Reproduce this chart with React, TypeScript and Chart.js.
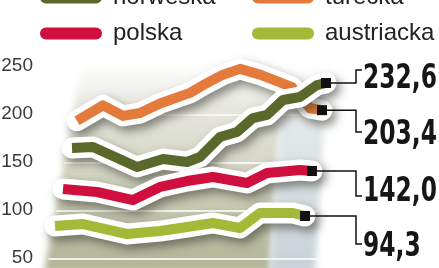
import { useEffect, useRef } from "react";
import { Chart, registerables } from "chart.js";

Chart.register(...registerables);

// ---- data ----
const seriesNames = ["norweska", "turecka", "polska", "austriacka"];
const seriesColors = ["#5a692b", "#e47a3b", "#cf0f3e", "#a6b837"];
const endValues = [232.6, 203.4, 142.0, 94.3];
const yTicks = [50, 100, 150, 200, 250];

const norweskaX = [8.5, 13.75, 19.25, 24.75, 31.25, 37.25, 40.5, 45.5, 49.75, 53.75, 57.25, 61.25, 65.5, 69.75, 72];
const norweskaY = [164.6, 165.6, 155.2, 144.8, 153.1, 150, 155.2, 176, 181.3, 195.8, 199, 214.6, 217.7, 230.2, 232.3];

const tureckaX = [9.75, 16.25, 21.25, 25.5, 30.5, 38, 41.25, 46.25, 50.5, 55.5, 60.5, 63.5, 68, 71];
const tureckaY = [193, 209, 198, 201, 211, 222, 230, 241, 247, 241, 233, 228, 206, 204];

const polskaX = [6.25, 14.75, 23.75, 30.5, 37.25, 43.75, 52.25, 57.25, 65.5, 68.5];
const polskaY = [121.9, 118.75, 110.4, 124, 130.2, 134.4, 128.1, 138.5, 141.7, 140.6];

const austriackaX = [4.25, 11.25, 22.25, 30.5, 37.25, 43.75, 50.5, 55.5, 63.75, 66.75];
const austriackaY = [83.3, 85.4, 75, 78.1, 82.3, 86.5, 81.25, 96.9, 96.9, 93.75];

const seriesX = [norweskaX, tureckaX, polskaX, austriackaX];
const seriesY = [norweskaY, tureckaY, polskaY, austriackaY];

// drawing order from back to front
const drawOrder = [1, 0, 2, 3];

// label layout (style)
const labelBaselines = [88, 144, 201, 256];
const connectorTargets = [70, 132, 196, 244];

function fmt(v: number) {
  return v.toFixed(1).replace(".", ",");
}

const decorPlugin = {
  id: "decor",
  beforeDatasetsDraw(chart: any) {
    const ctx = chart.ctx as CanvasRenderingContext2D;
    const ys = chart.scales.y;
    ctx.save();
    // main gray-olive panel
    const g = ctx.createLinearGradient(0, 62, 0, 268);
    g.addColorStop(0, "rgba(236,236,230,0)");
    g.addColorStop(0.2, "rgba(230,230,222,0.9)");
    g.addColorStop(0.55, "#d1d2bf");
    g.addColorStop(1, "#b3b598");
    ctx.filter = "blur(3px)";
    ctx.fillStyle = g;
    ctx.beginPath();
    ctx.moveTo(82, 62);
    ctx.lineTo(284, 62);
    ctx.lineTo(270, 272);
    ctx.lineTo(44, 272);
    ctx.closePath();
    ctx.fill();
    // bluish band
    const b = ctx.createLinearGradient(0, 62, 0, 268);
    b.addColorStop(0, "rgba(236,238,240,0)");
    b.addColorStop(0.3, "rgba(226,230,232,0.9)");
    b.addColorStop(1, "#c7d2d8");
    ctx.fillStyle = b;
    ctx.beginPath();
    ctx.moveTo(284, 62);
    ctx.lineTo(328, 62);
    ctx.lineTo(315, 272);
    ctx.lineTo(270, 272);
    ctx.closePath();
    ctx.fill();
    ctx.filter = "none";
    // light gridlines
    ctx.strokeStyle = "rgba(250,250,246,0.9)";
    ctx.lineWidth = 2;
    for (const t of yTicks.slice(0, 4)) {
      const py = ys.getPixelForValue(t) + 1;
      const lx = 47 + (268 - py) * 0.16;
      ctx.beginPath();
      ctx.moveTo(lx, py);
      ctx.lineTo(318, py);
      ctx.stroke();
    }
    // tick labels
    ctx.fillStyle = "#3a3a3a";
    ctx.font = '19px "Liberation Sans", sans-serif';
    ctx.textAlign = "right";
    ctx.textBaseline = "middle";
    for (const t of yTicks) {
      ctx.fillText(String(t), 33, ys.getPixelForValue(t));
    }
    ctx.restore();
  },
  beforeDatasetDraw(chart: any, args: any) {
    const ds = chart.data.datasets[args.index];
    if (ds._halo) {
      const ctx = chart.ctx;
      ctx.save();
      ctx.shadowColor = "rgba(50,50,40,0.55)";
      ctx.shadowBlur = 10;
      ctx.shadowOffsetX = 4;
      ctx.shadowOffsetY = 5;
    }
  },
  afterDatasetDraw(chart: any, args: any) {
    const ds = chart.data.datasets[args.index];
    if (ds._halo) chart.ctx.restore();
  },
  afterDatasetsDraw(chart: any) {
    const ctx = chart.ctx as CanvasRenderingContext2D;
    const xs = chart.scales.x;
    const ys = chart.scales.y;
    ctx.save();
    const labelFont = 'bold 34px "DejaVu Sans Condensed", "DejaVu Sans", sans-serif';
    ctx.font = labelFont;
    const squeeze = 74 / ctx.measureText("232,6").width;
    // markers, connectors, labels
    for (let i = 0; i < seriesNames.length; i++) {
      const xArr = seriesX[i];
      const yArr = seriesY[i];
      const px = xs.getPixelForValue(xArr[xArr.length - 1]);
      const py = ys.getPixelForValue(yArr[yArr.length - 1]);
      ctx.fillStyle = "#111";
      ctx.fillRect(px - 5, py - 5, 10, 10);
      ctx.strokeStyle = "#111";
      ctx.lineWidth = 1.5;
      ctx.beginPath();
      ctx.moveTo(px + 5, py);
      ctx.lineTo(356, py);
      ctx.lineTo(356, connectorTargets[i]);
      ctx.lineTo(362, connectorTargets[i]);
      ctx.stroke();
      ctx.save();
      ctx.fillStyle = "#161616";
      ctx.font = labelFont;
      ctx.textAlign = "left";
      ctx.textBaseline = "alphabetic";
      ctx.translate(363, labelBaselines[i]);
      ctx.scale(squeeze, 1);
      ctx.fillText(fmt(endValues[i]), 0, 0);
      ctx.restore();
    }
    // legend
    ctx.font = '24px "Liberation Sans", sans-serif';
    ctx.textAlign = "left";
    ctx.textBaseline = "alphabetic";
    for (let i = 0; i < seriesNames.length; i++) {
      const col = i % 2;
      const row = Math.floor(i / 2);
      const cy = -2.5 + row * 36;
      const x0 = col === 0 ? 40 : 252;
      ctx.fillStyle = seriesColors[i];
      ctx.beginPath();
      const w = 62;
      const h = 12;
      ctx.moveTo(x0 + h / 2, cy - h / 2);
      ctx.lineTo(x0 + w - h / 2, cy - h / 2);
      ctx.arc(x0 + w - h / 2, cy, h / 2, -Math.PI / 2, Math.PI / 2);
      ctx.lineTo(x0 + h / 2, cy + h / 2);
      ctx.arc(x0 + h / 2, cy, h / 2, Math.PI / 2, (3 * Math.PI) / 2);
      ctx.closePath();
      ctx.fill();
      ctx.fillStyle = "#222";
      ctx.fillText(seriesNames[i], x0 + 73, cy + 6.5);
    }
    ctx.restore();
  },
};

export default function App() {
  const ref = useRef<HTMLCanvasElement>(null);
  useEffect(() => {
    if (!ref.current) return;
    const datasets: any[] = [];
    // Chart.js draws dataset index 0 last (on top) -> push front-most first
    const front = [...drawOrder].reverse();
    for (const i of front) {
      const pts = seriesX[i].map((x, k) => ({ x, y: seriesY[i][k] }));
      datasets.push({
        label: seriesNames[i],
        data: pts,
        borderColor: seriesColors[i],
        borderWidth: 10,
        borderCapStyle: "butt",
        borderJoinStyle: "round",
        pointRadius: 0,
        tension: 0,
        clip: false,
      });
      datasets.push({
        label: seriesNames[i] + "-halo",
        _halo: true,
        data: pts,
        borderColor: "#ffffff",
        borderWidth: 21,
        borderCapStyle: "round",
        borderJoinStyle: "round",
        pointRadius: 0,
        tension: 0,
        clip: false,
      });
    }
    const chart = new Chart(ref.current, {
      type: "line",
      data: { datasets },
      options: {
        animation: false,
        responsive: false,
        devicePixelRatio: 1,
        layout: { autoPadding: false, padding: { top: 56.4, bottom: 0.4, left: 0, right: 1 } },
        plugins: { legend: { display: false }, tooltip: { enabled: false } },
        scales: {
          x: { type: "linear", min: 0, max: 100, display: false },
          y: {
            min: 40,
            max: 260,
            afterFit: (s: any) => {
              s.width = 38;
            },
            grid: { display: false, drawTicks: false },
            border: { display: false },
            ticks: { display: false },
          },
        },
      } as any,
      plugins: [decorPlugin],
    });
    return () => chart.destroy();
  }, []);
  return (
    <canvas
      ref={ref}
      width={439}
      height={268}
      style={{ position: "fixed", left: 0, top: 0, width: 439, height: 268, background: "#fff" }}
    />
  );
}
